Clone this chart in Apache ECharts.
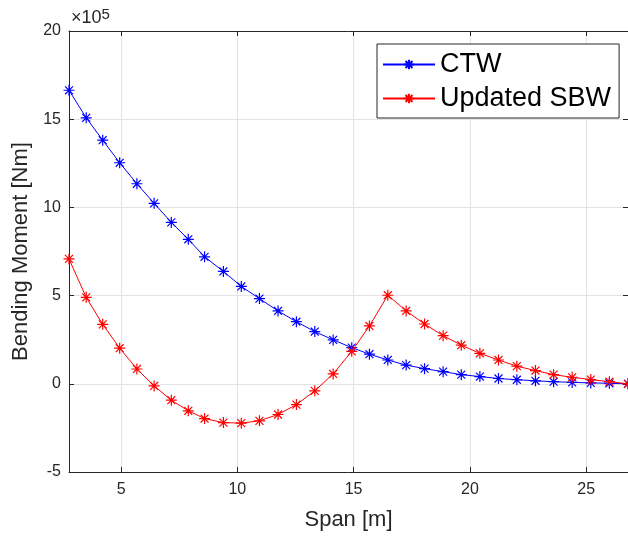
<!DOCTYPE html>
<html>
<head>
<meta charset="utf-8">
<script src="https://cdn.jsdelivr.net/npm/echarts@6/dist/echarts.min.js"></script>
<style>html,body{margin:0;padding:0;background:#fff;}#c{width:628px;height:536px;}</style>
</head>
<body>
<div id="c"></div>
<script>
// Span positions [m]
const spanM = [2.76, 3.50, 4.21, 4.94, 5.68, 6.42, 7.16, 7.89, 8.59, 9.40, 10.17, 10.95, 11.75, 12.54, 13.33, 14.12, 14.92, 15.68, 16.47, 17.26, 18.05, 18.85, 19.63, 20.43, 21.23, 22.02, 22.82, 23.60, 24.40, 25.20, 26.00, 26.80];
// Bending moment, in units of 10^5 Nm
const ctwE5 = [16.64, 15.08, 13.81, 12.53, 11.34, 10.23, 9.15, 8.19, 7.20, 6.37, 5.52, 4.83, 4.13, 3.52, 2.96, 2.49, 2.05, 1.68, 1.35, 1.06, 0.86, 0.69, 0.52, 0.41, 0.30, 0.23, 0.17, 0.12, 0.08, 0.05, 0.03, 0];
const sbwE5 = [7.08, 4.90, 3.37, 2.02, 0.84, -0.12, -0.93, -1.53, -1.97, -2.20, -2.23, -2.10, -1.74, -1.18, -0.40, 0.56, 1.84, 3.28, 5.02, 4.13, 3.39, 2.73, 2.19, 1.73, 1.35, 1.00, 0.75, 0.52, 0.37, 0.24, 0.12, 0];
const seriesNames = ['CTW', 'Updated SBW'];
const yTicks = [-5, 0, 5, 10, 15, 20];

const FONT = 'Liberation Sans, Arial, Helvetica, sans-serif';
const AX = '#262626';
const star = 'path://M0,-5L0,5M-5,0L5,0M-3.6,-3.6L3.6,3.6M-3.6,3.6L3.6,-3.6';

const xMin = spanM[0], xMax = spanM[spanM.length - 1];

function pairs(xs, ys) { return xs.map((x, i) => [x, ys[i]]); }

const chart = echarts.init(document.getElementById('c'), null, {renderer: 'canvas'});
chart.setOption({
  animation: false,
  backgroundColor: '#fff',
  grid: {left: 69, right: -4, top: 31, bottom: 64, containLabel: false},
  textStyle: {fontFamily: FONT},
  xAxis: [{
    type: 'value', min: xMin, max: xMax, splitNumber: 5,
    name: 'Span [m]', nameLocation: 'middle', nameGap: 37,
    nameTextStyle: {fontSize: 22, color: AX, fontFamily: FONT},
    axisLine: {show: true, onZero: false, lineStyle: {color: AX, width: 1}},
    axisTick: {show: true, inside: true, length: 5, lineStyle: {color: AX}},
    axisLabel: {fontSize: 16, color: AX, margin: 10, fontFamily: FONT,
      showMinLabel: false, showMaxLabel: false,
      formatter: v => (Math.abs(v / 5 - Math.round(v / 5)) < 1e-6 ? String(Math.round(v)) : '')},
    splitLine: {show: true, lineStyle: {color: '#e3e3e3', width: 1}}
  }, {
    type: 'value', position: 'top', min: xMin, max: xMax, splitNumber: 5,
    axisLine: {show: true, onZero: false, lineStyle: {color: AX, width: 1}},
    axisTick: {show: true, inside: true, length: 5, lineStyle: {color: AX}},
    axisLabel: {show: false}, splitLine: {show: false}
  }],
  yAxis: [{
    type: 'value', min: yTicks[0], max: yTicks[yTicks.length - 1], interval: 5,
    name: 'Bending Moment [Nm]', nameLocation: 'middle', nameGap: 34, nameRotate: 90,
    nameTextStyle: {fontSize: 22, color: AX, fontFamily: FONT},
    axisLine: {show: true, onZero: false, lineStyle: {color: AX, width: 1}},
    axisTick: {show: true, inside: true, length: 5, lineStyle: {color: AX}},
    axisLabel: {fontSize: 16, color: AX, margin: 8, fontFamily: FONT},
    splitLine: {show: true, lineStyle: {color: '#e3e3e3', width: 1}}
  }, {
    type: 'value', position: 'right', min: yTicks[0], max: yTicks[yTicks.length - 1], interval: 5,
    axisLine: {show: true, onZero: false, lineStyle: {color: AX, width: 1}},
    axisTick: {show: true, inside: true, length: 5, lineStyle: {color: AX}},
    axisLabel: {show: false}, splitLine: {show: false}
  }],
  legend: {
    orient: 'vertical', left: 377, top: 44,
    backgroundColor: '#fff', borderColor: AX, borderWidth: 1, borderRadius: 0,
    padding: [7, 8, 6, 5], itemGap: 7, itemWidth: 52, itemHeight: 12,
    textStyle: {fontSize: 27, color: '#000', fontFamily: FONT, padding: [0, 0, 0, 0]},
    data: seriesNames
  },
  graphic: [{
    type: 'text', left: 71, top: 7,
    style: {
      text: '×10{s|5}', fontSize: 18, fill: AX, fontFamily: FONT,
      rich: {s: {fontSize: 15, fill: AX, fontFamily: FONT, verticalAlign: 'top', padding: [0, 0, 8, 0]}}
    }
  }],
  series: [{
    name: seriesNames[0], type: 'line', data: pairs(spanM, ctwE5),
    symbol: star, symbolSize: 11, showAllSymbol: true,
    lineStyle: {color: '#0000ff', width: 1},
    itemStyle: {color: '#0000ff', borderColor: '#0000ff', borderWidth: 1.2},
    emphasis: {disabled: true}, z: 3
  }, {
    name: seriesNames[1], type: 'line', data: pairs(spanM, sbwE5),
    symbol: star, symbolSize: 11, showAllSymbol: true,
    lineStyle: {color: '#ff0000', width: 1},
    itemStyle: {color: '#ff0000', borderColor: '#ff0000', borderWidth: 1.2},
    emphasis: {disabled: true}, z: 4
  }]
});
</script>
</body>
</html>
